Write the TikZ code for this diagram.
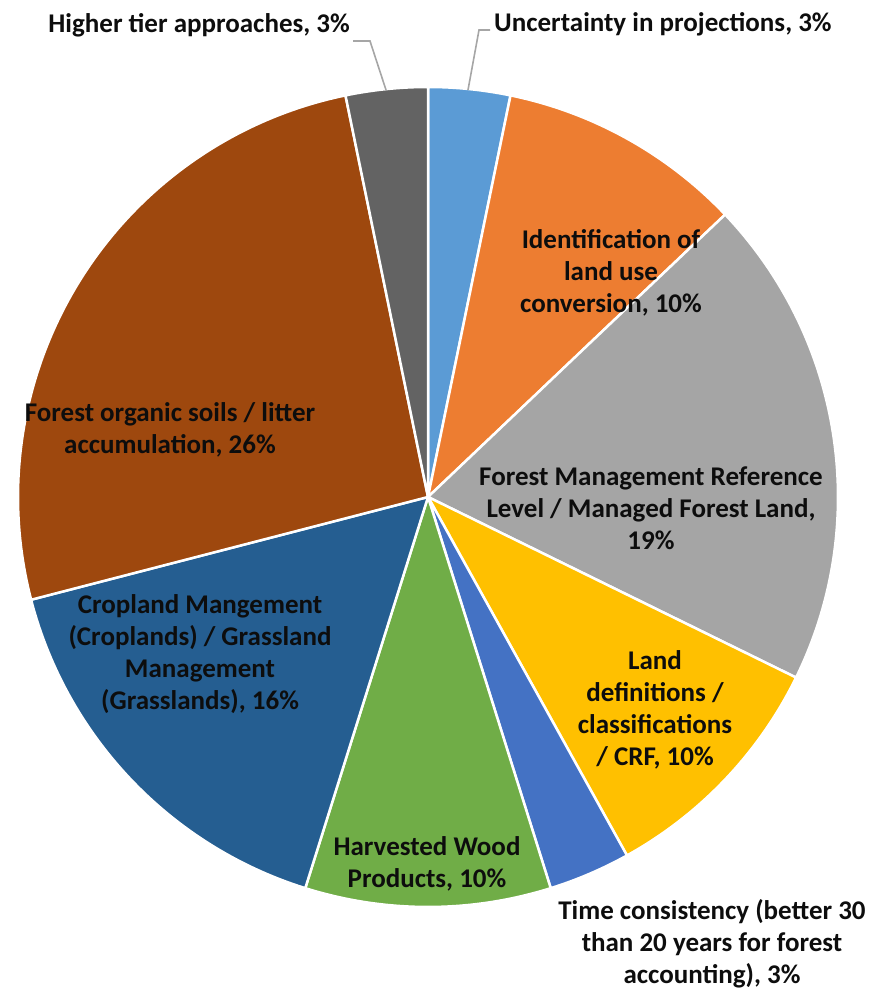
\documentclass[tikz,border=0pt]{standalone}
\usepackage{fontspec}
\setmainfont{Carlito}
\definecolor{cA}{HTML}{5B9BD5}
\definecolor{cB}{HTML}{ED7D31}
\definecolor{cC}{HTML}{A5A5A5}
\definecolor{cD}{HTML}{FFC000}
\definecolor{cE}{HTML}{4472C4}
\definecolor{cF}{HTML}{70AD47}
\definecolor{cG}{HTML}{255E91}
\definecolor{cH}{HTML}{9E480E}
\definecolor{cI}{HTML}{636363}
\definecolor{lead}{HTML}{A6A6A6}
\definecolor{txt}{HTML}{0D0D0D}
\begin{document}
\begin{tikzpicture}[x=1pt,y=1pt,
  slice/.style={draw=white,line width=2.5pt,line join=round},
  lbl/.style={align=center,text=txt,font=\fontsize{27}{31.8}\selectfont\bfseries,inner sep=0pt},
  leader/.style={draw=lead,line width=1.6pt}]
\useasboundingbox (0,0) rectangle (874,1002);
\coordinate (c) at (428,505);
\def\R{410}
\foreach \s/\e/\col in {90/78.387/cA, 78.387/43.548/cB, 43.548/-26.129/cC, -26.129/-60.968/cD, -60.968/-72.581/cE, -72.581/-107.419/cF, -107.419/-165.484/cG, -165.484/-258.387/cH, -258.387/-270/cI}{
  \filldraw[slice,fill=\col] (c) -- ++(\s:\R) arc[start angle=\s, end angle=\e, radius=\R] -- cycle;
}
\node[lbl,anchor=base east] (ht) at (350,969) {Higher tier approaches, 3\%};
\node[lbl,anchor=base west] (up) at (494,970) {Uncertainty in projections, 3\%};
\node[lbl] (iu) at (611,729) {Identification of\\land use\\conversion, 10\%};
\node[lbl] (fm) at (651,494) {Forest Management Reference\\Level / Managed Forest Land,\\19\%};
\node[lbl] (ld) at (655,292) {Land\\definitions /\\classifications\\/ CRF, 10\%};
\node[lbl] (tc) at (712,58) {Time consistency (better 30\\than 20 years for forest\\accounting), 3\%};
\node[lbl] (hw) at (427,138) {Harvested Wood\\Products, 10\%};
\node[lbl] (cm) at (200,348) {Cropland Mangement\\(Croplands) / Grassland\\Management\\(Grasslands), 16\%};
\node[lbl] (fo) at (170,572) {Forest organic soils / litter\\accumulation, 26\%};
\coordinate (htp) at (386,912);
\coordinate (upp) at (468,912);
\draw[leader] (353,961) -- (370,961) -- (htp);
\draw[leader] (490,972) -- (479,972) -- (upp);
\end{tikzpicture}
\end{document}
